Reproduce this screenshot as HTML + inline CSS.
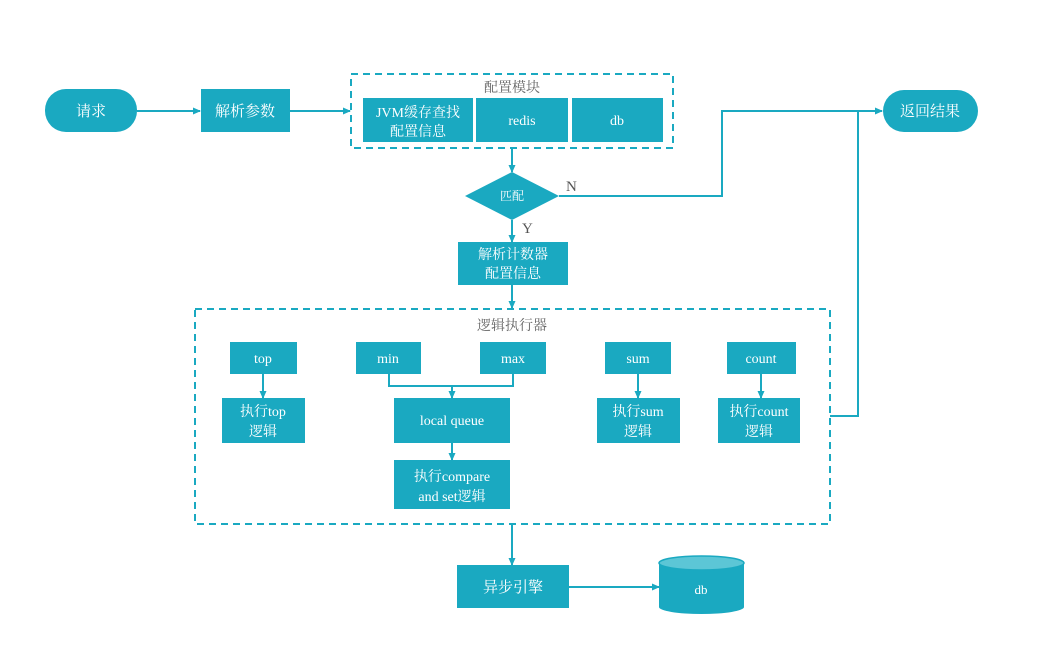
<!DOCTYPE html>
<html><head><meta charset="utf-8"><style>
html,body{margin:0;padding:0;background:#fff;}
svg text{font-family:"Liberation Serif","Noto Serif CJK SC","Noto Sans CJK SC",serif;}
</style></head><body>
<svg width="1056" height="644" viewBox="0 0 1056 644" xmlns="http://www.w3.org/2000/svg">
<defs><marker id="a" markerWidth="8" markerHeight="8" refX="7" refY="4" orient="auto" markerUnits="userSpaceOnUse"><path d="M0,0.5 L8,4 L0,7.5z" fill="#1aa9c1"/></marker></defs>
<g fill="#1aa9c1">
<rect x="45" y="89" width="92" height="43" rx="21"/>
<rect x="201" y="89" width="89" height="43"/>
<rect x="363" y="98" width="110" height="44"/>
<rect x="476" y="98" width="92" height="44"/>
<rect x="572" y="98" width="91" height="44"/>
<rect x="883" y="90" width="95" height="42" rx="21"/>
<path d="M512,172 L559,196 L512,220 L465,196z"/>
<rect x="458" y="242" width="110" height="43"/>
<rect x="230" y="342" width="67" height="32"/>
<rect x="222" y="398" width="83" height="45"/>
<rect x="356" y="342" width="65" height="32"/>
<rect x="480" y="342" width="66" height="32"/>
<rect x="394" y="398" width="116" height="45"/>
<rect x="394" y="460" width="116" height="49"/>
<rect x="605" y="342" width="66" height="32"/>
<rect x="597" y="398" width="83" height="45"/>
<rect x="727" y="342" width="69" height="32"/>
<rect x="718" y="398" width="82" height="45"/>
<rect x="457" y="565" width="112" height="43"/>
<path d="M659,563 L659,607 A42.5,7 0 0 0 744,607 L744,563z"/>
</g>
<ellipse cx="701.5" cy="563" rx="42.5" ry="7" fill="#5cc6d6" stroke="#1aa9c1" stroke-width="1.5"/>
<g fill="none" stroke="#1aa9c1" stroke-width="2" stroke-dasharray="7,5">
<rect x="351" y="74" width="322" height="74"/>
<rect x="195" y="309" width="635" height="215"/>
</g>
<g fill="none" stroke="#1aa9c1" stroke-width="2">
<line x1="137" y1="111" x2="200" y2="111" marker-end="url(#a)"/>
<line x1="290" y1="111" x2="350" y2="111" marker-end="url(#a)"/>
<line x1="512" y1="148" x2="512" y2="172" marker-end="url(#a)"/>
<polyline points="559,196 722,196 722,111 882,111" marker-end="url(#a)"/>
<polyline points="830,416 858,416 858,111"/>
<line x1="512" y1="220" x2="512" y2="242" marker-end="url(#a)"/>
<line x1="512" y1="285" x2="512" y2="308" marker-end="url(#a)"/>
<line x1="263" y1="374" x2="263" y2="398" marker-end="url(#a)"/>
<polyline points="389,374 389,386 513,386 513,374"/>
<line x1="452" y1="386" x2="452" y2="398" marker-end="url(#a)"/>
<line x1="452" y1="443" x2="452" y2="460" marker-end="url(#a)"/>
<line x1="638" y1="374" x2="638" y2="398" marker-end="url(#a)"/>
<line x1="761" y1="374" x2="761" y2="398" marker-end="url(#a)"/>
<line x1="512" y1="524" x2="512" y2="565" marker-end="url(#a)"/>
<line x1="569" y1="587" x2="659" y2="587" marker-end="url(#a)"/>
</g>
<g fill="#fff" font-size="14" text-anchor="middle">
<text x="91" y="116" font-size="15">请求</text>
<text x="245" y="116" font-size="15">解析参数</text>
<text x="418" y="117">JVM缓存查找</text>
<text x="418" y="136">配置信息</text>
<text x="522" y="125">redis</text>
<text x="617" y="125">db</text>
<text x="930" y="116" font-size="15">返回结果</text>
<text x="512" y="200" font-size="12">匹配</text>
<text x="513" y="259">解析计数器</text>
<text x="513" y="278">配置信息</text>
<text x="263" y="363">top</text>
<text x="263" y="416">执行top</text>
<text x="263" y="436">逻辑</text>
<text x="388" y="363">min</text>
<text x="513" y="363">max</text>
<text x="452" y="425">local queue</text>
<text x="452" y="481">执行compare</text>
<text x="452" y="501">and set逻辑</text>
<text x="638" y="363">sum</text>
<text x="638" y="416">执行sum</text>
<text x="638" y="436">逻辑</text>
<text x="761" y="363">count</text>
<text x="759" y="416">执行count</text>
<text x="759" y="436">逻辑</text>
<text x="513" y="592" font-size="15">异步引擎</text>
<text x="701" y="594" font-size="13">db</text>
</g>
<g fill="#666" font-size="14" text-anchor="middle">
<text x="512" y="92">配置模块</text>
<text x="512" y="330">逻辑执行器</text>
</g>
<g fill="#555" font-size="15">
<text x="566" y="191">N</text>
<text x="522" y="233">Y</text>
</g>
</svg>
</body></html>
